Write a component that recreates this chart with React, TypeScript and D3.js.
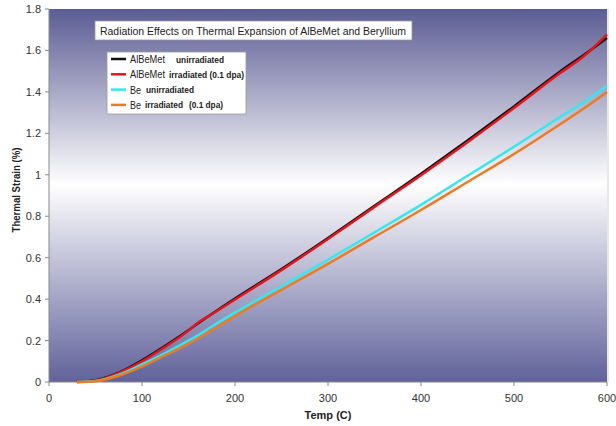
import React from "react";
import * as d3 from "d3";

const temps = [30, 50, 75, 100, 125, 150, 160, 175, 200, 250, 300, 350, 400, 450, 500, 550, 575, 600];
const albemetUnirr = [0, 0.008, 0.045, 0.105, 0.175, 0.25, 0.282, 0.328, 0.403, 0.545, 0.695, 0.85, 1.005, 1.165, 1.33, 1.5, 1.578, 1.66];
const albemetIrr = [0, 0.007, 0.044, 0.1, 0.17, 0.248, 0.286, 0.327, 0.398, 0.54, 0.69, 0.845, 0.998, 1.157, 1.322, 1.492, 1.572, 1.678];
const beUnirr = [0, 0.005, 0.035, 0.085, 0.14, 0.2, 0.225, 0.268, 0.335, 0.462, 0.59, 0.722, 0.855, 0.995, 1.135, 1.28, 1.35, 1.43];
const beIrr = [0, 0.004, 0.03, 0.075, 0.13, 0.185, 0.21, 0.25, 0.318, 0.445, 0.57, 0.7, 0.83, 0.965, 1.1, 1.245, 1.32, 1.4];

const xTicks = [0, 100, 200, 300, 400, 500, 600];
const yTicks = [0, 0.2, 0.4, 0.6, 0.8, 1, 1.2, 1.4, 1.6, 1.8];

const seriesNames = ["AlBeMet", "AlBeMet", "Be", "Be"];
const seriesNotes = ["unirradiated", "irradiated (0.1 dpa)", "unirradiated", "irradiated"];
const seriesColors = ["#111111", "#e8141c", "#33e8f0", "#f07a22"];
const seriesData = [albemetUnirr, albemetIrr, beUnirr, beIrr];

const W = 616;
const H = 426;
const left = 49;
const right = 607;
const top = 9;
const bottom = 382;

export default function App() {
  const x = d3.scaleLinear().domain([0, 600]).range([left, right]);
  const y = d3.scaleLinear().domain([0, 1.8]).range([bottom, top]);
  const line = d3
    .line<[number, number]>()
    .x((d) => x(d[0]))
    .y((d) => y(d[1]))
    .curve(d3.curveMonotoneX);

  const font = "'Liberation Sans', Arial, sans-serif";
  const nameLen = [35, 35, 11, 11];
  const noteX = [176, 169, 146, 145];
  const noteLen = [48, 75, 48, 38];

  return (
    <svg
      width={W}
      height={H}
      style={{ position: "absolute", left: 0, top: 0, background: "#fff" }}
      fontFamily={font}
    >
      <defs>
        <linearGradient id="bg" x1="0" y1="0" x2="0" y2="1">
          <stop offset="0" stopColor="#5b5c93" />
          <stop offset="0.47" stopColor="#ffffff" />
          <stop offset="1" stopColor="#60629a" />
        </linearGradient>
      </defs>
      <rect x={left} y={top} width={right - left} height={bottom - top} fill="url(#bg)" />
      <line x1={right + 1} x2={right + 1} y1={top} y2={bottom} stroke="#d0d0d0" strokeWidth={1} />

      {/* y axis */}
      <line x1={left} x2={left} y1={top} y2={bottom} stroke="#888" strokeWidth={1} />
      {yTicks.map((t) => (
        <g key={"y" + t}>
          <line x1={left - 4} x2={left} y1={y(t)} y2={y(t)} stroke="#888" />
          <text x={left - 8} y={y(t) + 4} textAnchor="end" fontSize={11} fill="#333">
            {String(t)}
          </text>
        </g>
      ))}
      {/* x axis */}
      <line x1={left} x2={right} y1={bottom} y2={bottom} stroke="#888" strokeWidth={1} />
      {xTicks.map((t) => (
        <g key={"x" + t}>
          <line x1={x(t)} x2={x(t)} y1={bottom} y2={bottom + 4} stroke="#888" />
          <text x={x(t)} y={bottom + 20} textAnchor="middle" fontSize={11} fill="#333">
            {String(t)}
          </text>
        </g>
      ))}

      <text x={(left + right) / 2} y={bottom + 37} textAnchor="middle" fontSize={11} fontWeight="bold" fill="#222">
        Temp (C)
      </text>
      <text
        transform={`translate(20, 190) rotate(-90)`}
        textAnchor="middle"
        fontSize={10.5}
        fontWeight="bold"
        fill="#222"
        textLength={85}
        lengthAdjust="spacingAndGlyphs"
      >
        Thermal Strain (%)
      </text>

      {/* series */}
      {seriesData.map((vals, i) => (
        <path
          key={"s" + i}
          d={line(temps.map((t, j) => [t, vals[j]] as [number, number])) || ""}
          fill="none"
          stroke={seriesColors[i]}
          strokeWidth={2.5}
        />
      ))}

      {/* title */}
      <rect x={95} y={21} width={317} height={19} fill="#fff" stroke="#999" strokeWidth={0.8} />
      <text x={100} y={35} fontSize={11.5} fill="#222" textLength={306} lengthAdjust="spacingAndGlyphs">
        Radiation Effects on Thermal Expansion of AlBeMet and Beryllium
      </text>

      {/* legend */}
      <rect x={107} y={52} width={139} height={62} fill="#fff" stroke="#999" strokeWidth={0.8} />
      {seriesNames.map((n, i) => {
        const ly = 59 + i * 15.3;
        return (
          <g key={"l" + i}>
            <line x1={111} x2={126} y1={ly} y2={ly} stroke={seriesColors[i]} strokeWidth={2.5} />
            <text x={130} y={ly + 4} fontSize={10.5} fill="#222" textLength={nameLen[i]} lengthAdjust="spacingAndGlyphs">
              {n}
            </text>
            <text x={noteX[i]} y={ly + 3.5} fontSize={9} fontWeight="bold" fill="#222" textLength={noteLen[i]} lengthAdjust="spacingAndGlyphs">
              {seriesNotes[i]}
            </text>
            {i === 3 ? (
              <text x={189} y={ly + 3.5} fontSize={9} fontWeight="bold" fill="#222" textLength={34} lengthAdjust="spacingAndGlyphs">
                (0.1 dpa)
              </text>
            ) : null}
          </g>
        );
      })}
    </svg>
  );
}
